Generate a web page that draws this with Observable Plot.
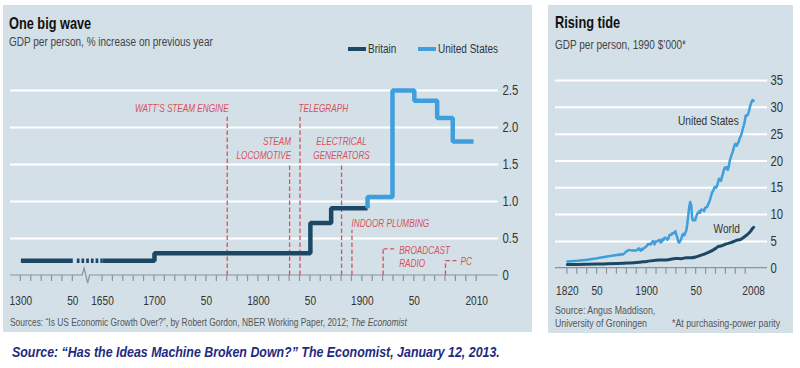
<!DOCTYPE html>
<html><head><meta charset="utf-8">
<script src="https://cdn.jsdelivr.net/npm/d3@7"></script>
<script src="https://cdn.jsdelivr.net/npm/@observablehq/plot@0.6"></script>
<style>
html,body{margin:0;padding:0;background:#fff;}
body{width:800px;height:368px;overflow:hidden;position:relative;font-family:"Liberation Sans",Arial,sans-serif;}
.panel{position:absolute;background:#d3e0e8;}
.t{position:absolute;white-space:nowrap;line-height:1;transform:translateY(-50%) scaleX(var(--s,0.8));transform-origin:left center;}
.r{transform-origin:right center;}
.title{font-weight:bold;font-size:17px;color:#111;--s:0.75;}
.sub{font-size:12.5px;color:#444;}
.src{font-size:11px;color:#555;}
.sw{position:absolute;height:4px;width:18px;transform:translateY(-50%);}
.chart{position:absolute;top:0;}
</style></head><body>
<div class="panel" style="left:3px;top:5px;width:529px;height:327px"></div>
<div class="panel" style="left:548px;top:5px;width:245px;height:328px"></div>
<div id="left" class="chart" style="left:0"></div>
<div id="right" class="chart" style="left:540px"></div>

<div class="t title" style="left:9px;top:23px">One big wave</div>
<div class="t sub" style="left:9px;top:42px">GDP per person, % increase on previous year</div>
<div class="sw" id="swB" style="left:348px;top:49px"></div>
<div class="t sub" style="left:368px;top:49px;color:#333">Britain</div>
<div class="sw" id="swU" style="left:418px;top:49px"></div>
<div class="t sub" style="left:438px;top:49px;color:#333">United States</div>
<div class="t src" style="left:10px;top:322px;--s:0.765">Sources: “Is US Economic Growth Over?”, by Robert Gordon, NBER Working Paper, 2012; <i>The Economist</i></div>

<div class="t title" style="left:555px;top:22px">Rising tide</div>
<div class="t sub" style="left:555px;top:45px">GDP per person, 1990 $’000*</div>
<div class="t src" style="left:555px;top:310px">Source: Angus Maddison,</div>
<div class="t src" style="left:555px;top:323px">University of Groningen</div>
<div class="t src r" style="right:20px;top:323px">*At purchasing-power parity</div>

<div class="t" style="left:12px;top:352px;font-size:14.5px;font-weight:bold;font-style:italic;color:#1f2b7e;--s:0.855">Source: “Has the Ideas Machine Broken Down?” The Economist, January 12, 2013.</div>

<script>
const FONT = '"Liberation Sans",Arial,sans-serif';
const SQUEEZE = 0.78;
const DARK = "#1c4866", LIGHT = "#3f9fdc", RED = "#d8505c", AXIS = "#8a949c", LABEL = "#333";
document.getElementById("swB").style.background = DARK;
document.getElementById("swU").style.background = LIGHT;

// ---------- Left chart data: growth of GDP per person, % ----------
const britainYears = [1300, 1700, 1850, 1870, 1905];
const britainRate  = [0.2, 0.3, 0.71, 0.91, 0.91];
const usYears = [1905, 1929, 1950, 1972, 1987, 2007];
const usRate  = [1.06, 2.5, 2.36, 2.13, 1.81, 1.81];
const gapStart = 1350, gapEnd = 1650;          // broken axis
const yTicksL = [0, 0.5, 1, 1.5, 2, 2.5];
const xTickYearsL = [1300,1310,1320,1330,1340,1350,1650,1660,1670,1680,1690,1700,1710,1720,1730,1740,1750,1760,1770,1780,1790,1800,1810,1820,1830,1840,1850,1860,1870,1880,1890,1900,1910,1920,1930,1940,1950,1960,1970,1980,1990,2000,2010];
const xLabelYearsL = [1300, 1350, 1650, 1700, 1750, 1800, 1850, 1900, 1950, 2010];
const xLabelTextL  = ["1300","50","1650","1700","50","1800","50","1900","50","2010"];
const inventionNames = ["WATT’S STEAM ENGINE","STEAM\nLOCOMOTIVE","TELEGRAPH","ELECTRICAL\nGENERATORS","INDOOR PLUMBING","BROADCAST\nRADIO","PC"];
const inventionYears = [1770, 1830, 1840, 1880, 1890, 1920, 1980];
// annotation layout (line top / label y in axis units, anchor, offset)
const inventionLayout = [
  {top: 2.14, labelY: 2.27, anchor: "end", dx: 1.5},
  {top: 1.5, labelY: 1.73, anchor: "end", dx: 1.5},
  {top: 2.14, labelY: 2.27, anchor: "start", dx: -1.5},
  {top: 1.5, labelY: 1.73, anchor: "middle", dx: 0},
  {top: 0.61, labelY: 0.72, anchor: "start", dx: -0.5},
  {top: 0.36, labelY: 0.26, anchor: "start", dx: 16, connector: true},
  {top: 0.2, labelY: 0.2, anchor: "start", dx: 15, connector: true}
];

// ---------- Right chart data: GDP per person, 1990 $'000 ----------
const usYearsR = [1820,1830,1840,1850,1860].concat(d3.range(1870, 2009));
const usGdpR = [1.257,1.376,1.588,1.849,2.178,
 2.445,2.503,2.460,2.595,2.559,2.599,2.574,2.712,2.863,3.059,
 3.184,3.287,3.395,3.376,3.326,3.291,3.293,3.329,3.246,3.326,
 3.392,3.452,3.723,3.485,3.262,3.600,3.459,3.728,3.797,3.979,
 4.091,4.464,4.420,4.551,4.434,4.642,5.028,4.985,4.447,4.980,
 4.964,5.046,5.201,5.301,4.799,4.864,5.459,5.248,5.659,5.680,
 5.552,5.323,5.540,6.164,6.233,6.252,6.553,6.535,6.569,6.899,
 6.213,5.691,4.908,4.777,5.114,5.467,6.204,6.430,6.126,6.561,
 7.010,8.206,9.741,11.518,12.333,11.709,9.197,8.886,9.065,8.944,
 9.561,10.116,10.316,10.613,10.359,10.897,10.914,10.920,10.631,11.230,
 11.328,11.402,11.905,12.242,12.773,13.419,14.134,14.330,14.863,15.179,
 15.030,15.304,15.944,16.689,16.491,16.284,16.975,17.567,18.373,18.789,
 18.577,18.856,18.325,19.041,20.123,20.717,21.236,21.788,22.499,23.059,
 23.201,22.849,23.298,23.616,24.266,24.623,25.199,25.937,26.562,27.275,
 28.467,28.409,28.577,29.037,29.859,30.519,31.049,31.374,31.178];
const worldYearsR = [1820,1830,1840,1850,1860,1870,1880,1890,1900,1913,1920,1929,1935,1940,1945,1950,1955,1960,1965,1970,1973,1975,1980,1985,1990,1995,2000,2003,2005,2006,2007,2008];
const worldGdpR = [0.667,0.69,0.72,0.76,0.81,0.873,0.96,1.05,1.262,1.526,1.53,1.806,1.78,1.958,1.93,2.113,2.43,2.77,3.18,3.73,4.09,4.13,4.51,4.76,5.15,5.39,6.04,6.52,6.92,7.18,7.45,7.61];
const yTicksR = [0, 5, 10, 15, 20, 25, 30, 35];
const xTickYearsR = d3.range(1820, 2001, 10);
const xLabelYearsR = [1820, 1850, 1900, 1950, 2008];
const xLabelTextR = ["1820","50","1900","50","2008"];
const seriesLabelsR = [{name: "United States", year: 1993, value: 27.5}, {name: "World", year: 1994, value: 7.4}];

// ---------- helpers ----------
function axisDecor(ticks, breakAt) {
  return (index, scales, values, dims) => {
    const x = scales.x, y0 = scales.y(0);
    const g = d3.create("svg:g").attr("fill", "none").attr("stroke", AXIS).attr("stroke-width", 1.2);
    let d = `M${dims.marginLeft},${y0}`;
    if (breakAt != null) {
      const b = x(breakAt);
      d += `H${b - 5}L${b - 3},${y0 - 7}L${b + 0.5},${y0 + 8}L${b + 2.5},${y0}`;
    }
    d += `H${dims.width - dims.marginRight}`;
    g.append("path").attr("d", d);
    g.selectAll("line").data(ticks).join("line")
      .attr("x1", t => x(t)).attr("x2", t => x(t)).attr("y1", y0).attr("y2", y0 + 6);
    return g.node();
  };
}
function squeeze(svg) {
  d3.select(svg).selectAll("text").each(function() {
    const t = this.getAttribute("transform") || "";
    this.setAttribute("transform", t + ` scale(${SQUEEZE},1)`);
  });
  return svg;
}

// ---------- Left chart ----------
const brit = britainYears.map((year, i) => ({year, v: britainRate[i]}));
const britEarly = [{year: britainYears[0], v: britainRate[0]}, {year: gapStart, v: britainRate[0]}];
const britGap = [{year: gapStart, v: britainRate[0]}, {year: gapEnd, v: britainRate[0]}];
const britLate = [{year: gapEnd, v: britainRate[0]}].concat(brit.slice(1));
const us = [{year: usYears[0], v: britainRate[britainRate.length - 1]}].concat(usYears.map((year, i) => ({year, v: usRate[i]})));
const inventions = inventionNames.map((name, i) => ({name, year: inventionYears[i], ...inventionLayout[i]}));

const groups = d3.groups(inventions, d => d.anchor + "|" + d.dx);
const textMarks = groups.map(([, arr]) => Plot.text(arr, {
  x: "year", y: "labelY", text: "name", textAnchor: arr[0].anchor, dx: arr[0].dx,
  fill: RED, fontSize: 10.5, fontStyle: "italic", lineHeight: 1.3, lineAnchor: "middle"
}));

const fmtL = d => d === 0 ? "0" : d3.format(".1f")(d);
const leftPlot = Plot.plot({
  width: 540, height: 335,
  marginTop: 90, marginBottom: 60, marginLeft: 10, marginRight: 42,
  style: {background: "transparent", overflow: "visible", fontFamily: FONT},
  x: {type: "linear", domain: [1290, gapStart, gapEnd, 2031], range: [10, 72.3, 102, 498], axis: null},
  y: {domain: [0, 2.5], axis: null},
  marks: [
    Plot.ruleY(yTicksL.filter(d => d > 0), {stroke: "white", strokeWidth: 2}),
    axisDecor(xTickYearsL, (gapStart + gapEnd) / 2),
    Plot.text(yTicksL, {x: 2031, y: d => d, text: fmtL, textAnchor: "start", dx: 4, fontSize: 14.5, fill: LABEL}),
    Plot.text(xLabelYearsL, {x: d => d, y: 0, text: (d, i) => xLabelTextL[i], dy: 25, fontSize: 13, fill: LABEL}),
    Plot.ruleX(inventions, {x: "year", y1: 0, y2: "top", stroke: RED, strokeWidth: 1.3, strokeDasharray: "4.5,2.5"}),
    Plot.ruleY(inventions.filter(d => d.connector), {x1: "year", x2: "year", y: "top", insetLeft: 1, insetRight: -13, stroke: RED, strokeWidth: 1.3, strokeDasharray: "4,2.5"}),
    ...textMarks,
    Plot.line(britEarly, {x: "year", y: "v", stroke: DARK, strokeWidth: 4.5, curve: "step-after", strokeLinecap: "butt"}),
    Plot.line(britGap, {x: "year", y: "v", stroke: DARK, strokeWidth: 4.5, strokeLinecap: "butt", strokeDasharray: "0,4,2.7,2,2.7,2,2.7,2,2.7,2,2.7,2,2.7,40"}),
    Plot.line(britLate, {x: "year", y: "v", stroke: DARK, strokeWidth: 4.5, curve: "step-after", strokeLinecap: "butt", strokeLinejoin: "miter"}),
    Plot.line(us, {x: "year", y: "v", stroke: LIGHT, strokeWidth: 4.5, curve: "step-after", strokeLinecap: "butt", strokeLinejoin: "miter"})
  ]
});
document.getElementById("left").append(squeeze(leftPlot));

// ---------- Right chart ----------
const usR = usYearsR.map((year, i) => ({year, v: usGdpR[i]}));
const worldR = worldYearsR.map((year, i) => ({year, v: worldGdpR[i]}));
const rightPlot = Plot.plot({
  width: 260, height: 335,
  marginTop: 80, marginBottom: 67.3, marginLeft: 15, marginRight: 33,
  style: {background: "transparent", overflow: "visible", fontFamily: FONT},
  x: {domain: [1808, 2022], axis: null},
  y: {domain: [0, 35], axis: null},
  marks: [
    Plot.ruleY(yTicksR.filter(d => d > 0), {stroke: "white", strokeWidth: 2}),
    axisDecor(xTickYearsR, null),
    Plot.text(yTicksR, {x: 2022, y: d => d, text: d => String(d), textAnchor: "start", dx: 3, fontSize: 14.5, fill: LABEL}),
    Plot.text(xLabelYearsR, {x: d => d, y: 0, text: (d, i) => xLabelTextR[i], dy: 23, fontSize: 13, fill: LABEL}),
    Plot.line(worldR, {x: "year", y: "v", stroke: DARK, strokeWidth: 3, curve: "monotone-x"}),
    Plot.line(usR, {x: "year", y: "v", stroke: LIGHT, strokeWidth: 2.5}),
    Plot.text(seriesLabelsR, {x: "year", y: "value", text: "name", textAnchor: "end", fontSize: 13, fill: LABEL})
  ]
});
document.getElementById("right").append(squeeze(rightPlot));
</script>
</body></html>
